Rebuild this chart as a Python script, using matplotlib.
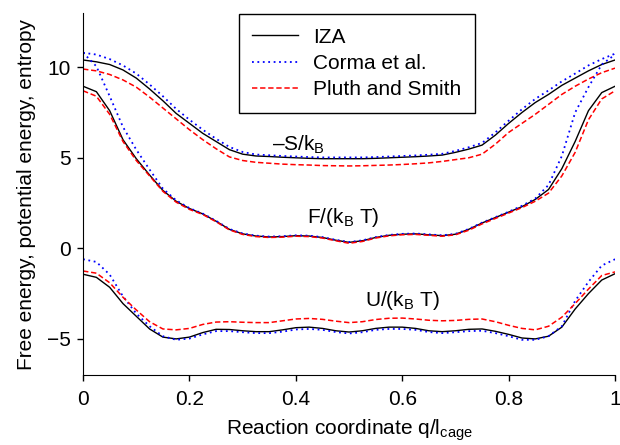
#!/bin/py
#
# free energy, potential energy and entropy along the reaction coordinate
#
import numpy as np
import matplotlib
matplotlib.use('Agg')
import matplotlib.pyplot as plt

plt.rcParams['font.family'] = ['Liberation Sans', 'DejaVu Sans']
plt.rcParams['mathtext.fontset'] = 'custom'
plt.rcParams['mathtext.rm'] = 'Liberation Sans'
plt.rcParams['mathtext.it'] = 'Liberation Sans:italic'

# reaction coordinate q/l_cage
q = [0.0, 0.025, 0.05, 0.075, 0.1, 0.125, 0.15, 0.175, 0.2, 0.225,
     0.25, 0.275, 0.3, 0.325, 0.35, 0.375, 0.4, 0.425, 0.45, 0.475,
     0.5, 0.525, 0.55, 0.575, 0.6, 0.625, 0.65, 0.675, 0.7, 0.725,
     0.75, 0.775, 0.8, 0.825, 0.85, 0.875, 0.9, 0.925, 0.95, 0.975, 1.0]

# -S/kB
s_iza = [10.4, 10.3, 10.15, 9.85, 9.4, 8.8, 8.15, 7.45, 6.9, 6.35,
         5.9, 5.45, 5.2, 5.1, 5.07, 5.03, 5.0, 4.97, 4.95, 4.95,
         4.95, 4.95, 4.97, 5.0, 5.03, 5.06, 5.1, 5.15, 5.3, 5.48,
         5.7, 6.25, 6.9, 7.5, 8.05, 8.5, 9.0, 9.4, 9.8, 10.15, 10.4]
s_corma = [10.8, 10.7, 10.45, 10.1, 9.65, 9.05, 8.4, 7.7, 7.1, 6.55,
           6.05, 5.6, 5.32, 5.18, 5.14, 5.1, 5.07, 5.04, 5.02, 5.02,
           5.02, 5.02, 5.04, 5.07, 5.1, 5.13, 5.17, 5.22, 5.38, 5.58,
           5.82, 6.4, 7.05, 7.68, 8.25, 8.72, 9.22, 9.65, 10.1, 10.45, 10.75]
s_pluth = [9.9, 9.8, 9.6, 9.3, 8.9, 8.35, 7.75, 7.15, 6.55, 6.0,
           5.5, 5.05, 4.85, 4.75, 4.7, 4.65, 4.62, 4.6, 4.57, 4.56,
           4.55, 4.56, 4.58, 4.6, 4.63, 4.67, 4.72, 4.8, 4.9, 5.0,
           5.2, 5.75, 6.4, 6.9, 7.4, 7.95, 8.5, 8.95, 9.35, 9.7, 9.95]

# F/(kB T)
f_iza = [8.95, 8.65, 7.6, 6.0, 4.95, 4.05, 3.2, 2.6, 2.2, 1.9,
         1.5, 1.05, 0.8, 0.68, 0.63, 0.65, 0.7, 0.68, 0.6, 0.45,
         0.33, 0.42, 0.6, 0.72, 0.78, 0.8, 0.75, 0.7, 0.78, 1.05,
         1.4, 1.7, 2.0, 2.3, 2.7, 3.25, 4.4, 5.9, 7.6, 8.6, 8.95]
f_corma = [10.8, 10.05, 8.4, 6.7, 5.45, 4.35, 3.3, 2.65, 2.22, 1.92,
           1.52, 1.07, 0.82, 0.7, 0.65, 0.67, 0.72, 0.7, 0.62, 0.47,
           0.35, 0.44, 0.62, 0.74, 0.8, 0.82, 0.77, 0.72, 0.8, 1.07,
           1.42, 1.72, 2.02, 2.35, 2.75, 3.5, 5.1, 7.5, 8.9, 10.15, 10.7]
f_pluth = [8.7, 8.4, 7.4, 5.9, 4.85, 4.0, 3.15, 2.55, 2.15, 1.87,
           1.47, 1.02, 0.77, 0.65, 0.6, 0.62, 0.67, 0.65, 0.57, 0.42,
           0.28, 0.38, 0.57, 0.69, 0.75, 0.77, 0.72, 0.67, 0.75, 1.0,
           1.35, 1.65, 1.95, 2.25, 2.6, 3.05, 4.0, 5.3, 7.1, 8.25, 8.7]

# U/(kB T)
u_iza = [-1.43, -1.6, -2.15, -3.05, -3.75, -4.45, -4.9, -5.0, -4.9, -4.65,
         -4.47, -4.48, -4.55, -4.6, -4.6, -4.5, -4.38, -4.35, -4.42, -4.55,
         -4.62, -4.55, -4.42, -4.35, -4.35, -4.42, -4.55, -4.6, -4.55, -4.47,
         -4.45, -4.58, -4.75, -4.95, -5.0, -4.85, -4.35, -3.35, -2.5, -1.75, -1.4]
u_corma = [-0.6, -0.75, -1.45, -2.65, -3.6, -4.3, -4.85, -5.05, -4.98, -4.75,
           -4.57, -4.57, -4.63, -4.68, -4.68, -4.6, -4.48, -4.45, -4.5, -4.62,
           -4.7, -4.63, -4.5, -4.45, -4.45, -4.5, -4.62, -4.68, -4.63, -4.57,
           -4.55, -4.68, -4.85, -5.05, -5.05, -4.85, -4.3, -2.9, -1.85, -0.95, -0.6]
u_pluth = [-1.25, -1.37, -1.9, -2.7, -3.4, -4.05, -4.45, -4.5, -4.42, -4.2,
           -4.07, -4.05, -4.08, -4.1, -4.1, -4.0, -3.9, -3.87, -3.92, -4.02,
           -4.1, -4.05, -3.93, -3.86, -3.85, -3.9, -3.97, -4.0, -3.98, -3.92,
           -3.9, -4.05, -4.25, -4.42, -4.5, -4.3, -3.8, -3.05, -2.25, -1.5, -1.3]

series_names = ['IZA', 'Corma et al.', 'Pluth and Smith']
xtick_vals = [0, 0.2, 0.4, 0.6, 0.8, 1.0]
xtick_labels = ['0', '0.2', '0.4', '0.6', '0.8', '1']
ytick_vals = [-5, 0, 5, 10]


#
# main function: execute
#
def main():

    fig = plt.figure(figsize=(6.2, 4.45), dpi=100)
    ax = fig.add_axes([0.134, 0.157, 0.858, 0.814])

    styles = [dict(color='black', linestyle='-', linewidth=1.0),
              dict(color='blue', linestyle=(0, (1, 2)), linewidth=1.3),
              dict(color='red', linestyle=(0, (3.5, 1.8)), linewidth=1.1)]

    groups = [(s_iza, s_corma, s_pluth),
              (f_iza, f_corma, f_pluth),
              (u_iza, u_corma, u_pluth)]

    for g in groups:
        for k in range(3):
            lab = series_names[k] if g is groups[0] else None
            ax.plot(q, g[k], label=lab, **styles[k])

    # curve labels
    ax.text(0.355, 5.37, '\u2013S/k$_\\mathrm{B}$', fontsize=15)
    ax.text(0.421, 1.4, 'F/(k$_\\mathrm{B}$ T)', fontsize=15)
    ax.text(0.530, -3.18, 'U/(k$_\\mathrm{B}$ T)', fontsize=15)

    ax.set_xlim(0, 1)
    ax.set_ylim(-7, 13)
    ax.set_xticks(xtick_vals)
    ax.set_xticklabels(xtick_labels)
    ax.set_yticks(ytick_vals)
    ax.tick_params(direction='out', length=4, width=1, labelsize=15, pad=5)
    ax.tick_params(axis='x', pad=7)

    ax.spines['top'].set_visible(False)
    ax.spines['right'].set_visible(False)

    ax.set_xlabel('Reaction coordinate q/l$_\\mathrm{cage}$', fontsize=15, labelpad=6)
    ax.set_ylabel('Free energy, potential energy, entropy', fontsize=15, labelpad=8)

    leg = ax.legend(loc='upper left', bbox_to_anchor=(0.293, 0.997),
                    borderaxespad=0, fancybox=False, edgecolor='black',
                    fontsize=15, handlelength=2.2, handletextpad=0.7,
                    labelspacing=0.35, borderpad=0.65, framealpha=1)
    leg.get_frame().set_linewidth(1.0)

    plt.savefig('out.png', dpi=100)

#
# EXECUTE
#
main()
